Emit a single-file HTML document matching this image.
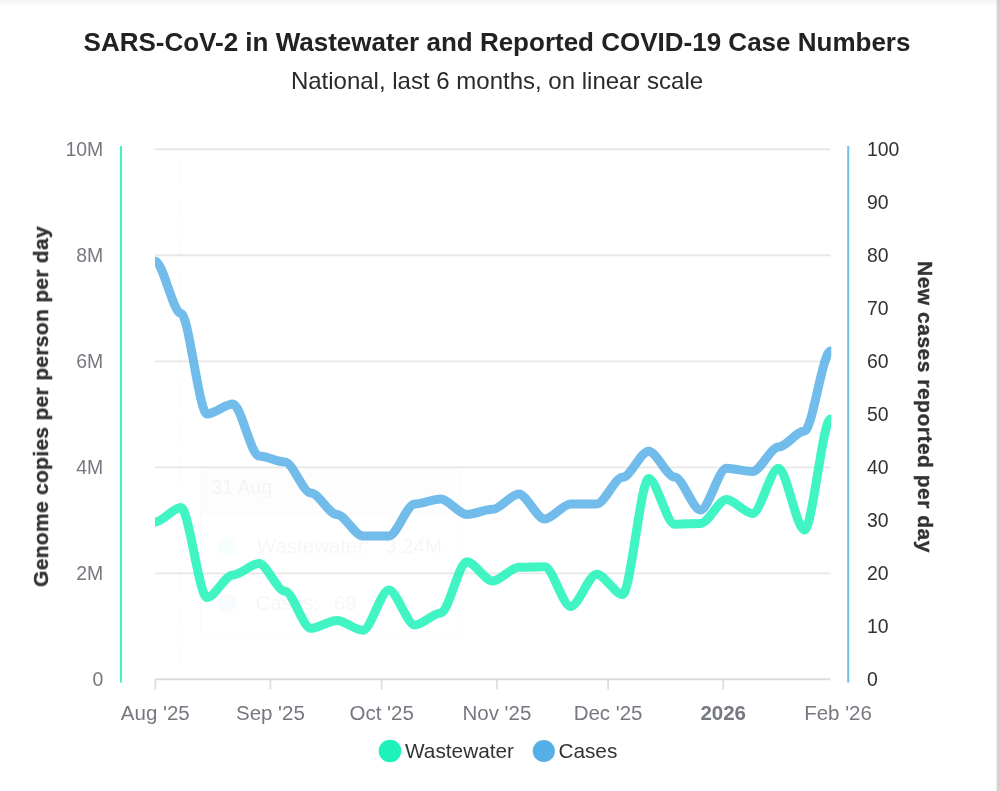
<!DOCTYPE html>
<html><head><meta charset="utf-8"><style>
html,body{margin:0;padding:0;background:#fff;width:999px;height:791px;overflow:hidden}
svg{display:block;font-family:"Liberation Sans",sans-serif}
</style></head><body>
<svg width="999" height="791" viewBox="0 0 999 791">
<defs>
<linearGradient id="tg" x1="0" y1="0" x2="0" y2="1"><stop offset="0" stop-color="#f2f2f2"/><stop offset="1" stop-color="#fff"/></linearGradient>
<linearGradient id="rg" x1="0" y1="0" x2="1" y2="0"><stop offset="0" stop-color="#fff"/><stop offset="1" stop-color="#cbcbcb"/></linearGradient>
<filter id="bl" x="-5%" y="-5%" width="110%" height="110%"><feGaussianBlur stdDeviation="0.35"/></filter>
<clipPath id="pc"><rect x="155" y="140" width="676.3" height="545"/></clipPath>
</defs>
<rect x="0" y="0" width="999" height="791" fill="#fff"/>
<rect x="0" y="0" width="999" height="6.5" fill="url(#tg)"/>
<rect x="995.6" y="0" width="2.2" height="791" fill="url(#rg)"/>
<rect x="997.8" y="0" width="1.2" height="791" fill="#cbcbcb"/>
<g filter="url(#bl)">
<text x="497" y="50.8" text-anchor="middle" style="font-size:26px;font-weight:bold" fill="#222">SARS-CoV-2 in Wastewater and Reported COVID-19 Case Numbers</text>
<text x="497" y="88.7" text-anchor="middle" style="font-size:24px" fill="#2a2a2a">National, last 6 months, on linear scale</text>
<g stroke="#e7e7e7" stroke-width="1.9"><line x1="155" x2="830.5" y1="149.3" y2="149.3"/><line x1="155" x2="830.5" y1="255.3" y2="255.3"/><line x1="155" x2="830.5" y1="361.4" y2="361.4"/><line x1="155" x2="830.5" y1="467.4" y2="467.4"/><line x1="155" x2="830.5" y1="573.4" y2="573.4"/></g>
<g stroke="#dcdcdc" stroke-width="2"><line x1="155" x2="830.5" y1="679.2" y2="679.2"/></g><g stroke="#dedede" stroke-width="1.8"><line x1="155.3" x2="155.3" y1="679" y2="689.6"/><line x1="270.4" x2="270.4" y1="679" y2="689.6"/><line x1="381.7" x2="381.7" y1="679" y2="689.6"/><line x1="496.9" x2="496.9" y1="679" y2="689.6"/><line x1="608.1" x2="608.1" y1="679" y2="689.6"/><line x1="723.2" x2="723.2" y1="679" y2="689.6"/></g>
<line x1="121" x2="121" y1="146" y2="682.5" stroke="#3ff3c4" stroke-width="2"/>
<line x1="848.2" x2="848.2" y1="146" y2="682.5" stroke="#70bcea" stroke-width="2"/>
<g fill="#767880" style="font-size:19.4px" text-anchor="end"><text x="103.2" y="156.0">10M</text><text x="103.2" y="262.0">8M</text><text x="103.2" y="368.0">6M</text><text x="103.2" y="474.0">4M</text><text x="103.2" y="580.0">2M</text><text x="103.2" y="686.0">0</text></g>
<g fill="#333" style="font-size:19.4px"><text x="867" y="156.0">100</text><text x="867" y="209.0">90</text><text x="867" y="262.0">80</text><text x="867" y="315.0">70</text><text x="867" y="368.0">60</text><text x="867" y="421.0">50</text><text x="867" y="474.0">40</text><text x="867" y="527.0">30</text><text x="867" y="580.0">20</text><text x="867" y="633.0">10</text><text x="867" y="686.0">0</text></g>
<g fill="#767880" style="font-size:20.5px" text-anchor="middle"><text x="155.3" y="720" style="">Aug '25</text><text x="270.4" y="720" style="">Sep '25</text><text x="381.7" y="720" style="">Oct '25</text><text x="496.9" y="720" style="">Nov '25</text><text x="608.1" y="720" style="">Dec '25</text><text x="723.2" y="720" style="font-weight:bold">2026</text><text x="838.0" y="720" style="">Feb '26</text></g>
<text transform="translate(48,406.5) rotate(-90)" text-anchor="middle" style="font-size:21px;font-weight:bold;letter-spacing:0.3px" fill="#333" stroke="#333" stroke-width="0.35">Genome copies per person per day</text>
<text transform="translate(918,407) rotate(90)" text-anchor="middle" style="font-size:21px;font-weight:bold;letter-spacing:0.5px" fill="#333" stroke="#333" stroke-width="0.35">New cases reported per day</text>
<line x1="180.3" x2="180.3" y1="149" y2="679" stroke="#000" stroke-opacity="0.018" stroke-width="1.6" stroke-dasharray="5 5.2"/>
<rect x="200" y="470.3" width="262" height="45.7" fill="#000" fill-opacity="0.008"/>
<rect x="200.5" y="470" width="261" height="165" fill="none" stroke="#000" stroke-opacity="0.014"/>
<g opacity="0.036">
<text x="211.5" y="494" style="font-size:19.5px" fill="#333">31 Aug</text>
<circle cx="227" cy="546.6" r="9.5" fill="#1ef2b9"/>
<text x="256.8" y="553.4" style="font-size:20.5px" fill="#333">Wastewater:</text>
<text x="385" y="553.4" style="font-size:20.5px" fill="#333">3.24M</text>
<circle cx="227" cy="603.4" r="9.5" fill="#57b0e8"/>
<text x="255.5" y="610" style="font-size:20.5px" fill="#333">Cases:</text>
<text x="333.8" y="610" style="font-size:20.5px" fill="#333">69</text>
</g>
<g clip-path="url(#pc)" fill="none" stroke-width="9" stroke-linecap="round" stroke-linejoin="round" stroke-opacity="0.85">
<path d="M155.00 522.10 C162.79 522.10 173.19 507.50 180.98 507.50 C188.77 507.50 199.17 597.50 206.96 597.50 C214.75 597.50 225.15 575.00 232.94 575.00 C240.73 575.00 251.13 563.50 258.92 563.50 C266.71 563.50 277.11 591.20 284.90 591.20 C292.69 591.20 303.09 628.30 310.88 628.30 C318.67 628.30 329.07 620.50 336.86 620.50 C344.65 620.50 355.05 630.20 362.84 630.20 C370.63 630.20 381.03 589.90 388.82 589.90 C396.61 589.90 407.01 625.00 414.80 625.00 C422.59 625.00 432.99 613.00 440.78 613.00 C448.57 613.00 458.97 561.70 466.76 561.70 C474.55 561.70 484.95 581.00 492.74 581.00 C500.53 581.00 510.93 567.30 518.72 567.30 C526.51 567.30 536.91 566.70 544.70 566.70 C552.49 566.70 562.89 606.50 570.68 606.50 C578.47 606.50 588.87 574.20 596.66 574.20 C604.45 574.20 614.85 594.50 622.64 594.50 C630.43 594.50 640.83 478.60 648.62 478.60 C656.41 478.60 666.81 524.20 674.60 524.20 C682.39 524.20 692.79 523.50 700.58 523.50 C708.37 523.50 718.77 499.40 726.56 499.40 C734.35 499.40 744.75 513.50 752.54 513.50 C760.33 513.50 770.73 468.20 778.52 468.20 C786.31 468.20 796.71 530.10 804.50 530.10 C812.30 530.10 822.70 419.00 830.50 419.00" stroke="#1ef2b9"/>
<path d="M155.00 261.00 C162.79 261.00 173.19 313.50 180.98 313.50 C188.77 313.50 199.17 414.00 206.96 414.00 C214.75 414.00 225.15 404.00 232.94 404.00 C240.73 404.00 251.13 456.00 258.92 456.00 C266.71 456.00 277.11 462.00 284.90 462.00 C292.69 462.00 303.09 493.00 310.88 493.00 C318.67 493.00 329.07 514.50 336.86 514.50 C344.65 514.50 355.05 536.00 362.84 536.00 C370.63 536.00 381.03 536.00 388.82 536.00 C396.61 536.00 407.01 504.00 414.80 504.00 C422.59 504.00 432.99 499.00 440.78 499.00 C448.57 499.00 458.97 514.50 466.76 514.50 C474.55 514.50 484.95 509.30 492.74 509.30 C500.53 509.30 510.93 494.00 518.72 494.00 C526.51 494.00 536.91 519.00 544.70 519.00 C552.49 519.00 562.89 504.00 570.68 504.00 C578.47 504.00 588.87 504.00 596.66 504.00 C604.45 504.00 614.85 477.30 622.64 477.30 C630.43 477.30 640.83 451.20 648.62 451.20 C656.41 451.20 666.81 477.00 674.60 477.00 C682.39 477.00 692.79 510.00 700.58 510.00 C708.37 510.00 718.77 468.20 726.56 468.20 C734.35 468.20 744.75 471.50 752.54 471.50 C760.33 471.50 770.73 447.00 778.52 447.00 C786.31 447.00 796.71 431.00 804.50 431.00 C812.30 431.00 822.70 351.00 830.50 351.00" stroke="#57b0e8"/>
</g>
<circle cx="390" cy="751" r="11.3" fill="#1ef2b9"/>
<text x="405" y="757.7" style="font-size:20.8px" fill="#333">Wastewater</text>
<circle cx="543.8" cy="751" r="11.1" fill="#57b0e8"/>
<text x="558.4" y="757.7" style="font-size:20.8px" fill="#333">Cases</text>
</g>
</svg>
</body></html>
